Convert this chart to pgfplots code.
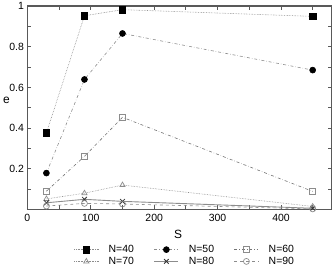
\documentclass[border=0pt]{standalone}
\usepackage{pgfplots}
\pgfplotsset{compat=1.18}
\usepackage{fontspec}
\setmainfont{Liberation Sans}
\definecolor{axgray}{gray}{0.35}
\definecolor{lgray}{gray}{0.55}
\definecolor{mgray}{gray}{0.45}
\begin{document}
\begin{tikzpicture}
\begin{axis}[
  at={(27.4bp,63.5bp)}, anchor=south west,
  scale only axis, width=304.3bp, height=203.5bp,
  xmin=0, xmax=480, ymin=0, ymax=1,
  xtick={0,100,200,300,400},
  minor xtick={50,150,250,350,450},
  ytick={0.2,0.4,0.6,0.8,1},
  yticklabels={0.2,0.4,0.6,0.8,1},
  minor ytick={0.1,0.3,0.5,0.7,0.9},
  tick align=inside,
  major tick length=4bp, minor tick length=4bp,
  every tick/.style={axgray, line width=0.8pt},
  axis line style={axgray, line width=1.2pt},
  /pgf/number format/assume math mode=true,
  tick label style={font=\fontsize{10.5}{12}\selectfont, text=black},
  xticklabel style={yshift=-1bp},
  xlabel={S}, ylabel={e},
  label style={font=\fontsize{12}{14}\selectfont},
  xlabel style={at={(rel axis cs:0.495,0)}, yshift=-17bp},
  ylabel style={rotate=-90, at={(rel axis cs:0,0.535)}, xshift=-14bp},
  legend columns=3,
  legend style={draw=none, fill=none, at={(0.518,-0.155)}, anchor=north,
    font=\fontsize{10.5}{12}\selectfont, row sep=-1bp,
    /tikz/every odd column/.append style={column sep=8bp},
    /tikz/every even column/.append style={column sep=18bp}},
  legend cell align=left,
  legend image code/.code={
    \draw[#1] (0bp,0bp) -- (24bp,0bp);
    \draw[#1, solid] plot coordinates {(12bp,0bp)};
  },
]
\addplot[lgray, densely dotted, line width=0.6pt, mark=square*, mark size=3.3pt, mark options={black, fill=black, solid}]
  coordinates {(30,0.376) (90,0.952) (150,0.982) (450,0.949)};
\addlegendentry{N=40}
\addplot[lgray, dash dot, line width=0.6pt, mark=*, mark size=3pt, mark options={black, fill=black, solid}]
  coordinates {(30,0.179) (90,0.639) (150,0.865) (450,0.685)};
\addlegendentry{N=50}
\addplot[mgray, dash dot, line width=0.6pt, mark=square, mark size=3pt, mark options={lgray, solid, line width=0.7pt}]
  coordinates {(30,0.090) (90,0.261) (150,0.453) (450,0.089)};
\addlegendentry{N=60}
\addplot[lgray, densely dotted, line width=0.6pt, mark=triangle, mark size=3pt, mark options={lgray, solid, line width=0.7pt}]
  coordinates {(30,0.052) (90,0.080) (150,0.120) (450,0.015)};
\addlegendentry{N=70}
\addplot[lgray, solid, line width=0.9pt, mark=x, mark size=3.3pt, mark options={black!80, solid, line width=0.8pt}]
  coordinates {(30,0.033) (90,0.050) (150,0.040) (450,0.006)};
\addlegendentry{N=80}
\addplot[lgray, dashed, line width=0.6pt, mark=o, mark size=3pt, mark options={lgray, solid, line width=0.7pt}]
  coordinates {(30,0.017) (90,0.030) (150,0.027) (450,0.003)};
\addlegendentry{N=90}
\end{axis}
\pgfresetboundingbox
\useasboundingbox (0,0) rectangle (332bp,273bp);
\end{tikzpicture}
\end{document}
